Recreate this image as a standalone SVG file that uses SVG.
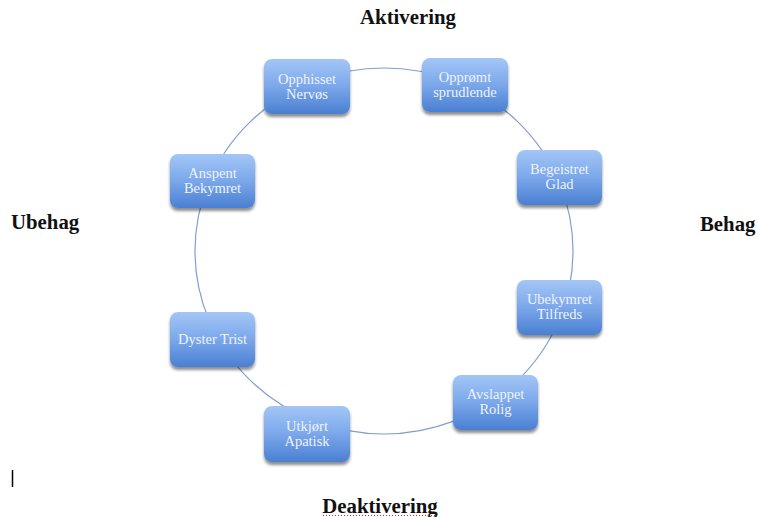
<svg xmlns="http://www.w3.org/2000/svg" width="758" height="517" viewBox="0 0 758 517">
<defs>
<linearGradient id="g" x1="0" y1="0" x2="0" y2="1">
<stop offset="0" stop-color="#a3c6f6"/>
<stop offset="0.5" stop-color="#7ba7ea"/>
<stop offset="1" stop-color="#4a7fd2"/>
</linearGradient>
<filter id="sh" x="-20%" y="-20%" width="140%" height="150%">
<feGaussianBlur in="SourceAlpha" stdDeviation="1.8"/>
<feOffset dx="0" dy="2.5" result="b"/>
<feComponentTransfer><feFuncA type="linear" slope="0.45"/></feComponentTransfer>
<feMerge><feMergeNode/><feMergeNode in="SourceGraphic"/></feMerge>
</filter>
</defs>
<style>
.box{fill:url(#g);filter:url(#sh)}
.t{font-family:"Liberation Serif","DejaVu Serif",serif;font-size:14.5px;fill:#eef3fc;text-anchor:middle}
.lab{font-family:"Liberation Serif","DejaVu Serif",serif;font-size:20.8px;font-weight:bold;fill:#111}
.conn{fill:none;stroke:#7f9fcf;stroke-width:1.2}
</style>
<rect width="758" height="517" fill="#ffffff"/>
<g id="connectors">
<ellipse class="conn" cx="384" cy="251" rx="189" ry="183"/>
</g>
<g id="n1"><rect class="box" x="264" y="59" width="86" height="55" rx="8"/><text class="t" x="307" y="84">Opphisset</text><text class="t" x="307" y="99">Nervøs</text></g>
<g id="n2"><rect class="box" x="422" y="58" width="86" height="54" rx="8"/><text class="t" x="465" y="82">Opprømt</text><text class="t" x="465" y="97">sprudlende</text></g>
<g id="n3"><rect class="box" x="517" y="150" width="85" height="55" rx="8"/><text class="t" x="559.5" y="174">Begeistret</text><text class="t" x="559.5" y="189">Glad</text></g>
<g id="n4"><rect class="box" x="170" y="154" width="85" height="54" rx="8"/><text class="t" x="212.5" y="178">Anspent</text><text class="t" x="212.5" y="193">Bekymret</text></g>
<g id="n5"><rect class="box" x="170" y="312" width="85" height="55" rx="8"/><text class="t" x="212.5" y="344">Dyster Trist</text></g>
<g id="n6"><rect class="box" x="517" y="280" width="85" height="55" rx="8"/><text class="t" x="559.5" y="304">Ubekymret</text><text class="t" x="559.5" y="319">Tilfreds</text></g>
<g id="n7"><rect class="box" x="453" y="375" width="85" height="55" rx="8"/><text class="t" x="495.5" y="399">Avslappet</text><text class="t" x="495.5" y="414">Rolig</text></g>
<g id="n8"><rect class="box" x="264" y="406" width="86" height="56" rx="8"/><text class="t" x="307" y="431">Utkjørt</text><text class="t" x="307" y="446">Apatisk</text></g>
<g id="labels">
<text class="lab" x="408" y="24" text-anchor="middle">Aktivering</text>
<text class="lab" x="11" y="229">Ubehag</text>
<text class="lab" x="700" y="231">Behag</text>
<text class="lab" x="380" y="513" text-anchor="middle">Deaktivering</text>
<line x1="323" y1="515.5" x2="437" y2="515.5" stroke="#d22" stroke-width="1" stroke-dasharray="1,2"/>
<line x1="12.5" y1="470" x2="12.5" y2="487" stroke="#000" stroke-width="1.5"/>
</g>
</svg>
